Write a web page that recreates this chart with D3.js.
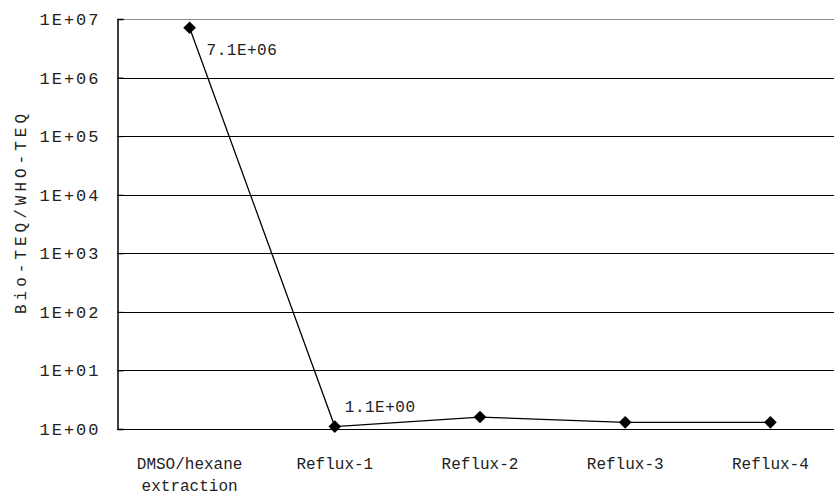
<!DOCTYPE html>
<html>
<head>
<meta charset="utf-8">
<script src="https://cdn.jsdelivr.net/npm/d3@7"></script>
<style>
  body { margin: 0; background: #fff; }
  svg { display: block; font-family: "Liberation Mono", "Courier New", monospace; }
</style>
</head>
<body>
<div id="chart"></div>
<script>
// Data
const categories = ["DMSO/hexane extraction", "Reflux-1", "Reflux-2", "Reflux-3", "Reflux-4"];
const values = [7.1e6, 1.1, 1.6, 1.3, 1.3];
const pointLabels = ["7.1E+06", "1.1E+00", "", "", ""];
const tickValues = [1e0, 1e1, 1e2, 1e3, 1e4, 1e5, 1e6, 1e7];
const tickLabels = ["1E+00", "1E+01", "1E+02", "1E+03", "1E+04", "1E+05", "1E+06", "1E+07"];
const yTitle = "Bio-TEQ/WHO-TEQ";

const width = 834, height = 495;
const margin = {top: 19, right: -9, bottom: 66, left: 117};

const svg = d3.select("#chart").append("svg")
    .attr("width", width)
    .attr("height", height);

// Scales
const x = d3.scaleBand()
    .domain(categories)
    .range([margin.left, width - margin.right])
    .padding(0);

const y = d3.scaleLog()
    .domain([1, 1e7])
    .range([height - margin.bottom, margin.top]);

// Gridlines
svg.append("g")
    .selectAll("line")
    .data(tickValues)
    .join("line")
    .attr("x1", margin.left)
    .attr("x2", width - margin.right)
    .attr("y1", d => Math.round(y(d)) + 0.5)
    .attr("y2", d => Math.round(y(d)) + 0.5)
    .attr("stroke", d => d === 1e7 ? "#8c8c8c" : "#000")
    .attr("stroke-width", 1);

// Y axis
const yAxis = svg.append("g")
    .attr("transform", `translate(${margin.left + 0.5},0)`)
    .call(d3.axisLeft(y)
        .tickValues(tickValues)
        .tickFormat((d, i) => tickLabels[i])
        .tickSize(-6)
        .tickPadding(20));
yAxis.select(".domain").attr("stroke", "#000").attr("stroke-width", 1.5);
yAxis.selectAll(".tick line").attr("stroke", "#000");
yAxis.selectAll(".tick text")
    .attr("font-family", "Liberation Mono, Courier New, monospace")
    .attr("font-size", 17)
    .attr("letter-spacing", "2px")
    .attr("fill", "#222")
    .attr("x", -17);

// X category labels
const xLabels = svg.append("g");
categories.forEach(c => {
    const words = c === "DMSO/hexane extraction" ? ["DMSO/hexane", "extraction"] : [c];
    const t = xLabels.append("text")
        .attr("x", x(c) + x.bandwidth() / 2)
        .attr("y", height - margin.bottom + 40)
        .attr("text-anchor", "middle")
        .attr("font-size", 16)
        .attr("fill", "#222");
    words.forEach((w, i) => {
        t.append("tspan")
            .attr("x", x(c) + x.bandwidth() / 2)
            .attr("dy", i === 0 ? 0 : 22)
            .text(w);
    });
});

// Y title
svg.append("text")
    .attr("transform", `translate(26,${(margin.top + height - margin.bottom) / 2 - 12}) rotate(-90)`)
    .attr("text-anchor", "middle")
    .attr("font-size", 16)
    .attr("letter-spacing", "4px")
    .attr("fill", "#222")
    .text(yTitle);

// Line
const line = d3.line()
    .x((d, i) => x(categories[i]) + x.bandwidth() / 2)
    .y(d => y(d));

svg.append("path")
    .datum(values)
    .attr("d", line)
    .attr("fill", "none")
    .attr("stroke", "#000")
    .attr("stroke-width", 1.3);

// Markers
svg.append("g")
    .selectAll("path")
    .data(values)
    .join("path")
    .attr("d", d3.symbol().type(d3.symbolSquare).size(80))
    .attr("transform", (d, i) => `translate(${x(categories[i]) + x.bandwidth() / 2},${y(d)}) rotate(45)`)
    .attr("fill", "#000");

// Point labels
const labelOffsets = [[17, 27], [10, -15]];
svg.append("g")
    .selectAll("text")
    .data(values.map((v, i) => ({v, i})).filter(d => pointLabels[d.i]))
    .join("text")
    .attr("x", d => x(categories[d.i]) + x.bandwidth() / 2 + labelOffsets[d.i][0])
    .attr("y", d => y(d.v) + labelOffsets[d.i][1])
    .attr("font-size", 16)
    .attr("letter-spacing", "0.5px")
    .attr("fill", "#222")
    .text(d => pointLabels[d.i]);
</script>
</body>
</html>
